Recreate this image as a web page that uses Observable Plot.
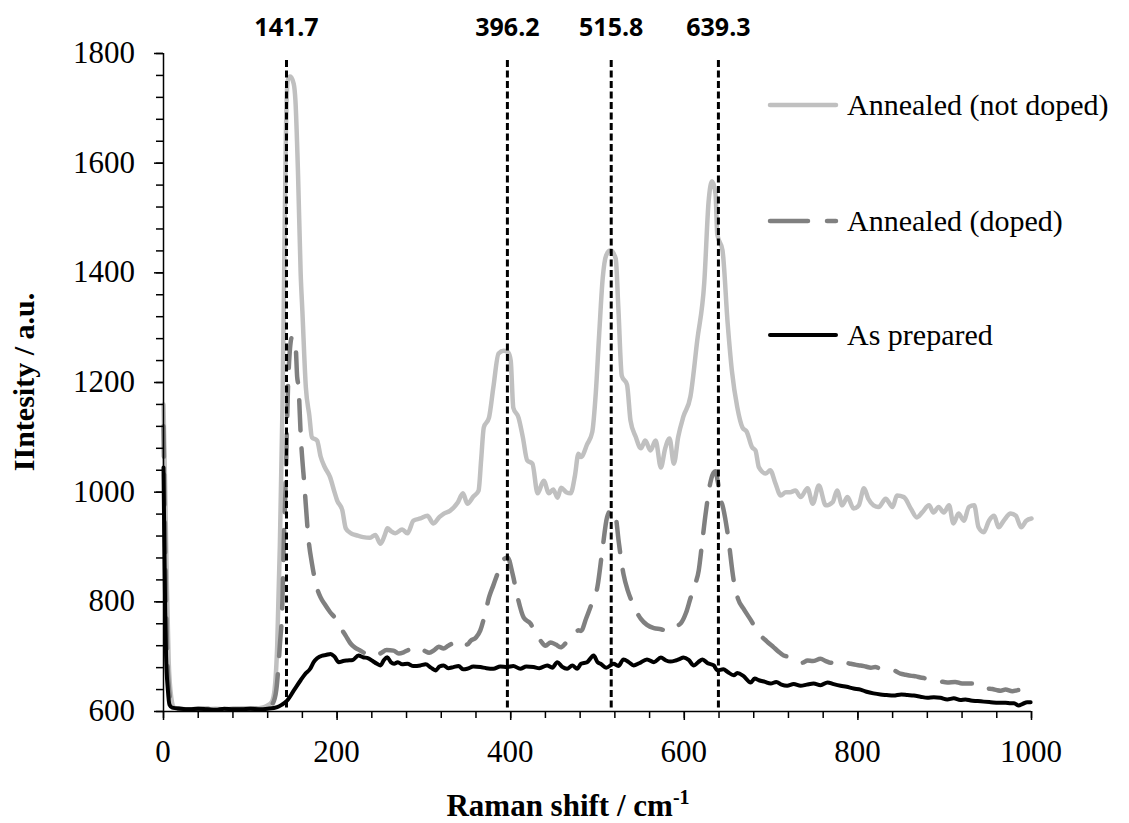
<!DOCTYPE html>
<html><head><meta charset="utf-8">
<script src="https://cdn.jsdelivr.net/npm/d3@7"></script>
<script src="https://cdn.jsdelivr.net/npm/@observablehq/plot@0.6"></script>
<style>
html,body{margin:0;padding:0;background:#fff;}
#wrap{position:relative;width:1129px;height:823px;overflow:hidden;}
.serif{font-family:"Liberation Serif" !important;}
.sans{font-family:"Open Sans" !important;}
.tnr{font-family:"Times New Roman" !important;}
#probe{position:absolute;left:-3000px;top:0;font:12px monospace;}
#probe2{position:absolute;left:-3000px;top:20px;font-family:"Liberation Serif";font-size:12px;}
</style></head><body><div id="wrap"></div><div id="probe">.</div><div id="probe2">.</div>
<script>
// ---- data (x = Raman shift cm-1, y = intensity a.u.) ----
const notDoped = [[0,1160],[2,1000],[4,820],[6,690],[9,625],[12,607],[20,605],[30,604],[40,605],[50,604],[60,605],[70,604],[80,605],[90,604],[100,605],[110,606],[116,608],[121,612],[125,618],[128,640],[131,720],[134,900],[137,1150],[139,1400],[141,1650],[143,1750],[146,1758],[150,1745],[152,1714],[155,1580],[158,1400],[160,1330],[164,1191],[168,1140],[171,1100],[177,1094],[181,1065],[186,1045],[192,1027],[197,1000],[200,985],[206,967],[210,934],[216,925],[223,921],[230,918],[238,917],[244,922],[250,906],[255,922],[258,934],[262,929],[267,925],[275,932],[281,925],[288,948],[296,952],[304,957],[311,943],[318,955],[323,961],[330,966],[339,981],[345,998],[350,979],[357,992],[363,1003],[366,1060],[369,1118],[375,1136],[380,1191],[386,1253],[392,1258],[397,1255],[400,1240],[403,1154],[409,1136],[414,1100],[419,1058],[425,1052],[431,998],[438,1021],[444,998],[449,1005],[454,990],[458,1008],[464,1000],[469,998],[474,1030],[478,1070],[481,1064],[488,1087],[494,1110],[498,1180],[502,1290],[506,1390],[510,1432],[515,1441],[521,1426],[524,1337],[528,1212],[534,1196],[538,1131],[544,1101],[550,1080],[555,1094],[561,1076],[567,1094],[573,1045],[578,1080],[583,1098],[588,1052],[593,1101],[599,1138],[607,1174],[615,1278],[623,1382],[628,1530],[632,1567],[636,1544],[638,1470],[644,1441],[650,1307],[655,1219],[661,1155],[667,1118],[672,1110],[678,1082],[682,1076],[686,1045],[694,1034],[699,1040],[705,1016],[711,994],[717,1000],[722,1000],[728,1003],[734,991],[742,1007],[748,979],[755,1012],[763,976],[771,982],[776,1003],[782,976],[788,991],[795,970],[801,976],[807,1007],[812,988],[818,976],[824,973],[832,988],[840,973],[845,994],[853,991],[861,970],[868,954],[874,963],[882,976],[887,963],[893,973],[899,963],[905,976],[910,943],[916,961],[922,948],[928,973],[934,976],[939,936],[945,927],[951,948],[957,957],[962,936],[968,948],[976,961],[982,957],[988,936],[994,948],[1000,952]];

const doped = [[0,1120],[2,900],[4,720],[7,630],[10,608],[15,605],[30,604],[50,605],[70,604],[90,605],[110,605],[120,607],[126,615],[130,640],[134,720],[137,802],[138.6,912],[140.6,1009],[144,1216],[148,1283],[150,1277],[152,1271],[154,1210],[155.6,1191],[158,1107],[162.5,1009],[167,915],[171,870],[176,830],[181,808],[186,795],[192,781],[198,770],[204,753],[210,738],[215.5,724],[221,716],[227,711],[233,706],[238.6,708],[244,703],[250,706],[257,712],[265,711],[271,706],[276.6,708],[282,712],[288,715],[294,709],[299.6,711],[306,707],[312,712],[317,718],[322.7,715],[328,720],[334,724],[340,720],[346,726],[350,722],[353.8,729],[360,735],[365,748],[370,775],[375,808],[380,830],[385,852],[390.7,875],[396.5,881],[402,852],[408,808],[415,771],[423,760],[429,740],[434.5,729],[440,720],[446,726],[452,722],[457.5,717],[463,724],[469,735],[474,742],[478,748],[481,747],[487,770],[492,791],[500,828],[505.5,893],[511,954],[516,968],[521,954],[524.5,909],[530,850],[535,820],[540,799],[545,782],[550,769],[557,758],[565,752],[573,750],[580.5,747],[588,754],[596,761],[602,780],[607,806],[612,830],[616.6,857],[620,900],[624.6,961],[630.4,1020],[634,1036],[636,1038],[638.5,1020],[642,985],[644,976],[650,924],[657,838],[662,805],[668,788],[676.5,767],[686,742],[695,728],[703,717],[708,710],[714.5,702],[720,700],[726,698],[731,694],[736,689],[742,693],[748,692],[757,696],[763,692],[768.7,689],[775,691],[780,693],[786,689],[791.7,687],[798,685],[803,684],[809,682],[815,680],[820,681],[826,678],[833,676],[841,675],[849,669],[855,667],[862,665],[867,664],[872,662],[880,660],[887.5,657],[895,655],[903,653],[912,654],[920,651],[928,651],[934,651],[940,646],[944,644],[949,642],[955,641],[960,639],[964.6,638],[970,640],[978,637],[985,639],[991,638],[996,637],[1000,638]];

const asPrepared = [[0,1045],[1,900],[2,780],[3,700],[5,640],[7,612],[10,607],[20,605],[30,604],[40,605],[50,604],[60,603],[70,605],[80,604],[90,604],[100,605],[110,604],[120,605],[131,608],[136,612],[142.5,620],[150,638],[158,657],[163,668],[169,678],[173,690],[177,697],[183,702],[187,703],[192.5,705],[197,700],[202,690],[207,692],[211.7,693],[218,694],[224.6,702],[230,699],[236,697],[241,692],[246,687],[250,684],[254,694],[257.8,699],[262,690],[265.6,687],[270,690],[275,686],[281,687],[288,683],[296,684],[302,686],[308,680],[313.5,675],[318,682],[322.7,684],[328,679],[334,681],[340,683],[345,677],[350,678],[357,682],[365,681],[372,679],[380,678],[388,682],[396,681],[403,683],[411,678],[418,682],[426.4,681],[433,679],[442,684],[448,680],[453.7,690],[459,682],[465,678],[471,684],[476.6,678],[481,687],[488,690],[495.6,702],[500,690],[503.6,687],[510,680],[518.6,687],[524,683],[530,695],[536,690],[541.7,684],[548,688],[557,695],[565,690],[573,698.5],[579,693],[584,691],[590,693],[595,696],[599,698.5],[605,694],[611,684],[616,690],[621,695],[627,688],[634,684],[638,675],[645,677],[650,672],[657,666],[661,670],[668,665],[676.5,653],[681,660],[686,657],[693,654],[699.5,651],[706,654],[712,649],[718.5,647],[726,650],[734,647],[741,649],[749,651],[757,648],[765,653],[772,650],[780,647],[787,645],[795,642],[803,640],[810,636],[818,633],[826,631],[833,630],[841,629],[850,631],[857,630],[864.4,629],[872,627],[880,625],[887.5,626],[895,625],[903,622],[910.5,624],[918,621],[924,622],[930,620],[938,619],[945,618],[953,617],[962,616],[970,616],[976,615],[980,615],[985,611],[990,614],[995,617],[999,617]];

const peaks = [141.7, 396.2, 515.8, 639.3];
const peakLabels = ["141.7", "396.2", "515.8", "639.3"];
const xMajorTicks = [0, 200, 400, 600, 800, 1000];
const yMajorTicks = [600, 800, 1000, 1200, 1400, 1600, 1800];
const seriesNames = ["Annealed (not doped)", "Annealed (doped)", "As prepared"];
const seriesColors = ["#c0c0c0", "#808080", "#000000"];
const xTitle = "Raman shift / cm";
const xTitleSup = "-1";
const yTitle = "IIntesity / a.u.";

const rows = arr => arr.map(([x, y]) => ({x, y}));
const serif = "Liberation Serif";

const chart = Plot.plot({
  width: 1129, height: 823,
  marginLeft: 163, marginRight: 98, marginTop: 53, marginBottom: 112,
  x: {domain: [0, 1000], label: null},
  y: {domain: [600, 1800], label: null},
  style: {fontFamily: serif, fontSize: "31px", color: "#000", background: "#fff", overflow: "visible"},
  marks: [
    Plot.line(rows(notDoped), {x: "x", y: "y", stroke: seriesColors[0], strokeWidth: 4.5, strokeLinejoin: "round", curve: "monotone-x"}),
    Plot.line(rows(doped), {x: "x", y: "y", stroke: seriesColors[1], strokeWidth: 4.5, strokeDasharray: "30,18", strokeLinecap: "round", strokeLinejoin: "round", curve: "monotone-x"}),
    Plot.line(rows(asPrepared), {x: "x", y: "y", stroke: seriesColors[2], strokeWidth: 4, strokeLinejoin: "round", curve: "monotone-x"}),
    Plot.ruleX(peaks, {stroke: "#000", strokeWidth: 3, strokeDasharray: "7,3.5", insetTop: 7}),
    Plot.text(peaks, {x: d => d, text: (d, i) => peakLabels[i], frameAnchor: "top", lineAnchor: "bottom", dy: -18,
      fontFamily: "Open Sans", fontWeight: "bold", fontSize: 25, fill: "#000"}),
    Plot.axisX({ticks: d3.range(0, 1001, 40), tickSize: 7, tickFormat: () => "", strokeWidth: 1.5}),
    Plot.axisX({ticks: xMajorTicks, tickSize: 9, tickFormat: () => "", strokeWidth: 1.5}),
    Plot.axisY({ticks: d3.range(600, 1801, 40), tickSize: 7, tickFormat: () => "", strokeWidth: 1.5}),
    Plot.axisY({ticks: yMajorTicks, tickSize: 9, tickFormat: () => "", strokeWidth: 1.5}),
    Plot.ruleY([600], {stroke: "#000", strokeWidth: 1.5}),
    Plot.ruleX([0], {stroke: "#000", strokeWidth: 1.5})
  ]
});

const wrap = document.getElementById("wrap");
wrap.appendChild(chart);
const svg = d3.select(chart);
const sx = chart.scale("x"), sy = chart.scale("y");

// tick labels placed with Plot's own scales
const xLab = svg.append("g");
xMajorTicks.forEach(v => {
  xLab.append("text").attr("x", sx.apply(v)).attr("y", 740).attr("dy", "0.71em")
    .attr("text-anchor", "middle").attr("class", "serif").style("font-family", serif)
    .attr("font-family", serif).attr("font-size", 31).attr("fill", "#000").text(String(v));
});
const yLab = svg.append("g");
yMajorTicks.forEach(v => {
  yLab.append("text").attr("x", 135).attr("y", sy.apply(v)).attr("dy", "0.32em")
    .attr("text-anchor", "end").attr("class", "serif").style("font-family", serif)
    .attr("font-family", serif).attr("font-size", 31).attr("fill", "#000").text(String(v));
});

// axis titles (bold serif)
const xt = svg.append("text")
  .attr("x", 568).attr("y", 816).attr("text-anchor", "middle").attr("class", "tnr")
  .style("font-family", "Times New Roman")
  .attr("font-family", "Times New Roman").attr("font-weight", "bold").attr("font-size", 31).attr("fill", "#000");
xt.append("tspan").text(xTitle);
xt.append("tspan").attr("dy", -12).attr("font-size", 20).text(xTitleSup);

svg.append("text")
  .attr("transform", "translate(34,382) rotate(-90)")
  .attr("text-anchor", "middle").attr("class", "tnr")
  .style("font-family", "Times New Roman")
  .attr("font-family", "Times New Roman").attr("font-weight", "bold").attr("font-size", 30).attr("fill", "#000")
  .text(yTitle);

// legend
const legY = [105, 221, 335];
seriesNames.forEach((name, i) => {
  const g = svg.append("g").attr("transform", `translate(768,${legY[i]})`);
  g.append("line").attr("x1", 2).attr("x2", 68).attr("y1", 0).attr("y2", 0)
    .attr("stroke", seriesColors[i]).attr("stroke-width", i === 2 ? 4 : 4.5)
    .attr("stroke-linecap", "round")
    .attr("stroke-dasharray", i === 1 ? "38,19" : null);
  g.append("text").attr("x", 79).attr("y", 10).attr("text-anchor", "start")
    .attr("class", "serif").style("font-family", serif)
    .attr("font-family", serif).attr("font-size", 30).attr("fill", "#000").text(name);
});

// peak labels keep the sans face; force style/layout
svg.selectAll("text").each(function() {
  if (peakLabels.includes(this.textContent)) {
    this.setAttribute("class", "sans");
    this.style.fontFamily = "Open Sans";
  }
  getComputedStyle(this).fontFamily;
  try { this.getBBox(); } catch (e) {}
});
getComputedStyle(document.getElementById("probe2")).fontFamily;
document.body.offsetHeight;
</script></body></html>
